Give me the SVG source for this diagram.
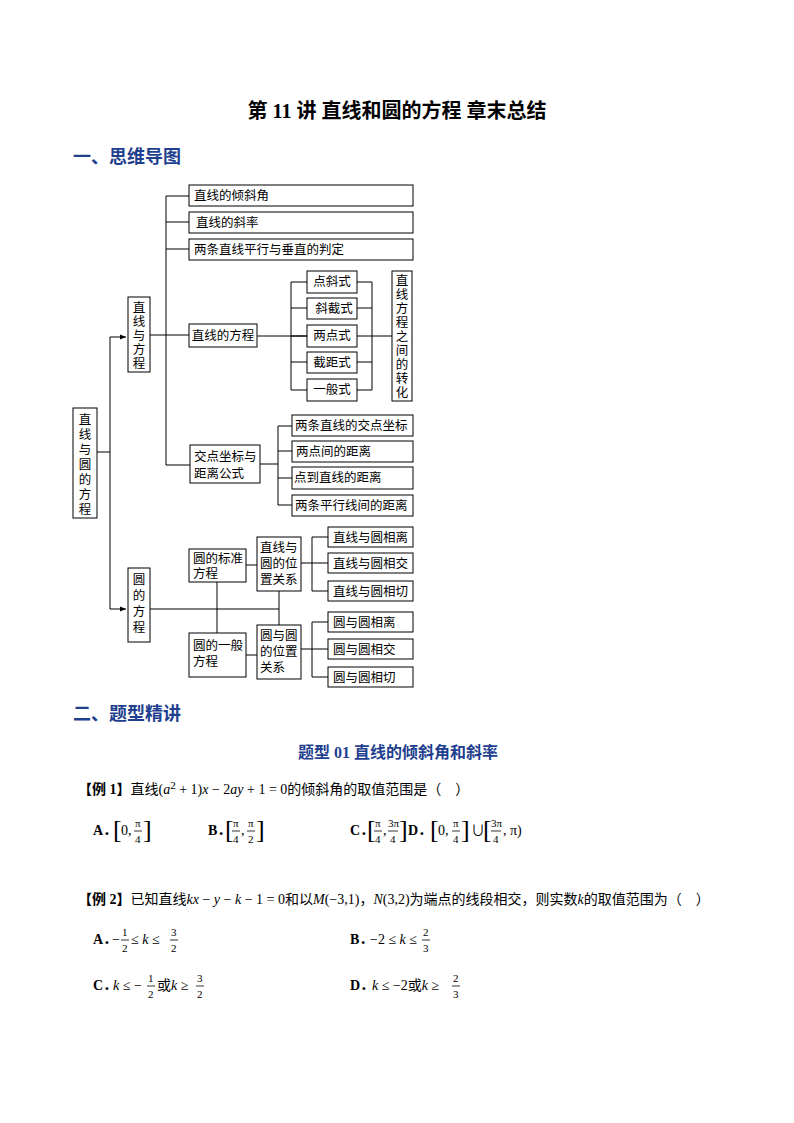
<svg xmlns="http://www.w3.org/2000/svg" width="794" height="1123" viewBox="0 0 794 1123">
<defs><marker id="ar" viewBox="0 0 6 6" refX="6" refY="3" markerWidth="6" markerHeight="6" orient="auto"><path d="M0,0.5L6,3L0,5.5z" fill="#000"/></marker></defs>
<style>
.b{fill:#fff;stroke:#000;stroke-width:1}
.t{font-family:"Liberation Serif","Noto Sans CJK SC",serif;font-size:12.5px;fill:#000}
.l{fill:none;stroke:#000;stroke-width:1}
.fb{stroke:#000;stroke-width:0.8}
.h{font-family:"Liberation Serif","Noto Sans CJK SC",serif;font-weight:bold;fill:#1f3f8f}
.m{font-family:"Liberation Serif","Noto Sans CJK SC",serif;font-size:14px;fill:#000}
.i{font-style:italic}
.s{font-size:11px}
.bk{font-size:26px;font-weight:100}
</style>
<rect width="794" height="1123" fill="#fff"/>
<text x="397" y="118" text-anchor="middle" style="font-family:'Liberation Serif','Noto Sans CJK SC',serif;font-size:20px;font-weight:bold">第 11 讲  直线和圆的方程 章末总结</text>
<text class="h" x="73" y="163" font-size="18">一、思维导图</text>
<g id="connectors">
<path class="l" d="M97,452H110V337H126" marker-end="url(#ar)"/>
<path class="l" d="M110,452V609H126" marker-end="url(#ar)"/>
<path class="l" d="M150,335H189M166,196V465H190M166,196H189M166,222H189M166,249H189"/>
<path class="l" d="M257,336H307M291,282V390M291,282H307M291,308H307M291,336H307M291,362H307M291,390H307"/>
<path class="l" d="M357,282H372M357,308H372M357,336H392M357,362H372M357,390H372M372,282V390"/>
<path class="l" d="M260,464H278M278,426V505M278,426H292M278,451H292M278,478H292M278,505H292"/>
<path class="l" d="M150,609H279M217,582V633M279,591V625M246,565H257M246,655H257"/>
<path class="l" d="M301,563H312M312,537V591M312,537H328M312,563H328M312,591H328"/>
<path class="l" d="M301,649H312M312,622V677M312,622H328M312,649H328M312,677H328"/>
</g>
<g id="root"><rect class="b" x="73" y="408" width="24" height="110"/><text class="t" x="85" text-anchor="middle"><tspan y="424">直</tspan><tspan x="85" y="439">线</tspan><tspan x="85" y="454">与</tspan><tspan x="85" y="469">圆</tspan><tspan x="85" y="484">的</tspan><tspan x="85" y="499">方</tspan><tspan x="85" y="514">程</tspan></text></g>
<g id="lineq"><rect class="b" x="128" y="297" width="22" height="75"/><text class="t" x="139" text-anchor="middle"><tspan y="312">直</tspan><tspan x="139" y="326">线</tspan><tspan x="139" y="340">与</tspan><tspan x="139" y="354">方</tspan><tspan x="139" y="368">程</tspan></text></g>
<g id="n1"><rect class="b" x="189" y="185" width="224" height="21"/><text class="t" x="194" y="200">直线的倾斜角</text></g>
<g id="n2"><rect class="b" x="189" y="212" width="224" height="21"/><text class="t" x="196" y="227">直线的斜率</text></g>
<g id="n3"><rect class="b" x="189" y="239" width="224" height="21"/><text class="t" x="194" y="254">两条直线平行与垂直的判定</text></g>
<g id="n4"><rect class="b" x="189" y="324" width="68" height="23"/><text class="t" x="223" y="340" text-anchor="middle">直线的方程</text></g>
<g id="f1"><rect class="b" x="307" y="271" width="50" height="22"/><text class="t" x="332" y="286" text-anchor="middle">点斜式</text></g>
<g id="f2"><rect class="b" x="307" y="298" width="50" height="21"/><text class="t" x="334" y="313" text-anchor="middle">斜截式</text></g>
<g id="f3"><rect class="b" x="307" y="325" width="50" height="22"/><text class="t" x="332" y="340" text-anchor="middle">两点式</text></g>
<g id="f4"><rect class="b" x="307" y="352" width="50" height="21"/><text class="t" x="332" y="367" text-anchor="middle">截距式</text></g>
<g id="f5"><rect class="b" x="307" y="379" width="50" height="22"/><text class="t" x="332" y="394" text-anchor="middle">一般式</text></g>
<g id="conv"><rect class="b" x="392" y="271" width="20" height="130"/><text class="t" x="402" text-anchor="middle"><tspan y="285">直</tspan><tspan x="402" y="299">线</tspan><tspan x="402" y="313">方</tspan><tspan x="402" y="327">程</tspan><tspan x="402" y="341">之</tspan><tspan x="402" y="355">间</tspan><tspan x="402" y="369">的</tspan><tspan x="402" y="383">转</tspan><tspan x="402" y="397">化</tspan></text></g>
<g id="n5"><rect class="b" x="190" y="445" width="70" height="38"/><text class="t" x="194"><tspan y="461">交点坐标与</tspan><tspan x="194" y="478">距离公式</tspan></text></g>
<g id="d1"><rect class="b" x="292" y="415" width="121" height="21"/><text class="t" x="295" y="430">两条直线的交点坐标</text></g>
<g id="d2"><rect class="b" x="292" y="441" width="121" height="21"/><text class="t" x="296" y="456">两点间的距离</text></g>
<g id="d3"><rect class="b" x="292" y="467" width="121" height="22"/><text class="t" x="294" y="482">点到直线的距离</text></g>
<g id="d4"><rect class="b" x="292" y="495" width="121" height="21"/><text class="t" x="295" y="510">两条平行线间的距离</text></g>
<g id="circ"><rect class="b" x="128" y="568" width="22" height="74"/><text class="t" x="139" text-anchor="middle"><tspan y="584">圆</tspan><tspan x="139" y="600">的</tspan><tspan x="139" y="616">方</tspan><tspan x="139" y="632">程</tspan></text></g>
<g id="c1"><rect class="b" x="189" y="549" width="57" height="33"/><text class="t" x="193"><tspan y="563">圆的标准</tspan><tspan x="193" y="578">方程</tspan></text></g>
<g id="c2"><rect class="b" x="189" y="633" width="57" height="44"/><text class="t" x="193"><tspan y="650">圆的一般</tspan><tspan x="193" y="666">方程</tspan></text></g>
<g id="c3"><rect class="b" x="257" y="537" width="44" height="54"/><text class="t" x="260"><tspan y="552">直线与</tspan><tspan x="260" y="568">圆的位</tspan><tspan x="260" y="584">置关系</tspan></text></g>
<g id="c4"><rect class="b" x="257" y="625" width="44" height="54"/><text class="t" x="260"><tspan y="640">圆与圆</tspan><tspan x="260" y="656">的位置</tspan><tspan x="260" y="672">关系</tspan></text></g>
<g id="r1"><rect class="b" x="328" y="527" width="85" height="20"/><text class="t" x="333" y="542">直线与圆相离</text></g>
<g id="r2"><rect class="b" x="328" y="553" width="85" height="20"/><text class="t" x="333" y="568">直线与圆相交</text></g>
<g id="r3"><rect class="b" x="328" y="581" width="85" height="20"/><text class="t" x="333" y="596">直线与圆相切</text></g>
<g id="r4"><rect class="b" x="328" y="612" width="85" height="20"/><text class="t" x="333" y="627">圆与圆相离</text></g>
<g id="r5"><rect class="b" x="328" y="639" width="85" height="20"/><text class="t" x="333" y="654">圆与圆相交</text></g>
<g id="r6"><rect class="b" x="328" y="667" width="85" height="20"/><text class="t" x="333" y="682">圆与圆相切</text></g>
<text class="h" x="73" y="720" font-size="18">二、题型精讲</text>
<text class="h" x="398" y="758" font-size="16" text-anchor="middle">题型 01 直线的倾斜角和斜率</text>
<g id="ex" class="m">
<text x="78" y="794"><tspan font-weight="bold">【例 1】</tspan>直线(<tspan class="i">a</tspan><tspan class="s" dy="-5">2</tspan><tspan dy="5"> + 1)</tspan><tspan class="i">x</tspan> − 2<tspan class="i">ay</tspan> + 1 = 0的倾斜角的取值范围是（　）</text>
<g class="fb"><path d="M134,831H142M232,831H240M247,831H255M374,831H382M388,831H398M452,831H460M491,831H501"/></g>
<text x="93" y="835" font-weight="bold">A．</text><text x="113" y="838" class="bk">[</text><text x="121" y="835">0,</text><text x="135" y="827" class="s">π</text><text x="135" y="843" class="s">4</text><text x="143" y="838" class="bk">]</text>
<text x="208" y="835" font-weight="bold">B．</text><text x="225" y="838" class="bk">[</text><text x="233" y="827" class="s">π</text><text x="233" y="843" class="s">4</text><text x="241" y="835">,</text><text x="248" y="827" class="s">π</text><text x="248" y="843" class="s">2</text><text x="256" y="838" class="bk">]</text>
<text x="350" y="835" font-weight="bold">C．</text><text x="367" y="838" class="bk">[</text><text x="375" y="827" class="s">π</text><text x="375" y="843" class="s">4</text><text x="383" y="835">,</text><text x="388" y="827" class="s">3π</text><text x="390" y="843" class="s">4</text><text x="399" y="838" class="bk">]</text>
<text x="408" y="835" font-weight="bold">D．</text><text x="430" y="838" class="bk">[</text><text x="438" y="835">0,</text><text x="453" y="827" class="s">π</text><text x="453" y="843" class="s">4</text><text x="461" y="838" class="bk">]</text><text x="471" y="835">∪</text><text x="483" y="838" class="bk">[</text><text x="491" y="827" class="s">3π</text><text x="493" y="843" class="s">4</text><text x="503" y="835">, π)</text>
<text x="78" y="904"><tspan font-weight="bold">【例 2】</tspan>已知直线<tspan class="i">kx</tspan> − <tspan class="i">y</tspan> − <tspan class="i">k</tspan> − 1 = 0和以<tspan class="i">M</tspan>(−3,1)，<tspan class="i">N</tspan>(3,2)为端点的线段相交，则实数<tspan class="i">k</tspan>的取值范围为（　）</text>
<g class="fb"><path d="M121,940H129M170,940H178M422,940H430M147,986H155M196,986H204M452,986H460"/></g>
<text x="93" y="944" font-weight="bold">A．</text><text x="112" y="944">−</text><text x="122" y="936" class="s">1</text><text x="122" y="952" class="s">2</text><text x="131" y="944">≤ <tspan class="i">k</tspan> ≤</text><text x="171" y="936" class="s">3</text><text x="171" y="952" class="s">2</text>
<text x="350" y="944" font-weight="bold">B．</text><text x="370" y="944">−2 ≤ <tspan class="i">k</tspan> ≤</text><text x="423" y="936" class="s">2</text><text x="423" y="952" class="s">3</text>
<text x="93" y="990" font-weight="bold">C．</text><text x="113" y="990"><tspan class="i">k</tspan> ≤ −</text><text x="148" y="982" class="s">1</text><text x="148" y="998" class="s">2</text><text x="157" y="990">或<tspan class="i">k</tspan> ≥</text><text x="197" y="982" class="s">3</text><text x="197" y="998" class="s">2</text>
<text x="350" y="990" font-weight="bold">D．</text><text x="372" y="990"><tspan class="i">k</tspan> ≤ −2或<tspan class="i">k</tspan> ≥</text><text x="453" y="982" class="s">2</text><text x="453" y="998" class="s">3</text>
</g>
</svg>
